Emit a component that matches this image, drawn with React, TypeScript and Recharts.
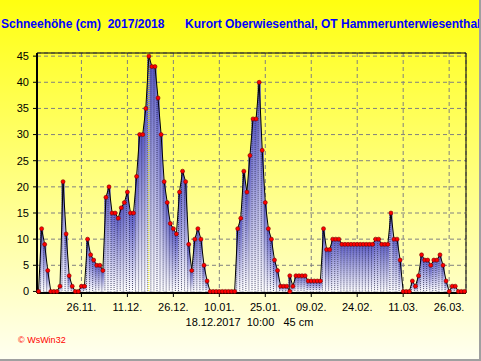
import { ComposedChart, Area, Bar, Line, XAxis, YAxis, CartesianGrid, ReferenceLine } from 'recharts'

// snow depth in cm, one entry per day starting 12.11.2017 (a pair = two readings that day)
const snow: (number | number[])[] = [
  0, 12, 9, 4, 0, 0, 0, 1, 21, 11,
  3, 1, 0, 0, 1, 1, 10, 7, 6, 5,
  5, 4, 18, 20, 15, 15, 14, 16, 17, 19,
  15, 15, 22, 30, 30, 35, 45, 43, 43, 37,
  30, 21, 17, 13, 12, 11, 19, 23, 21, 9,
  4, 10, 12, 10, 5, 2, 0, 0, 0, 0,
  0, 0, 0, 0, 0, 12, 14, 23, 19, 26,
  33, 33, 40, 27, 17, 12, 10, 6, 4, 1,
  1, 1, [0, 3], 1, 3, 3, 3, 3, 2, 2,
  2, 2, 2, 12, 8, 8, 10, 10, 10, 9,
  9, 9, 9, 9, 9, 9, 9, 9, 9, 9,
  10, 10, 9, 9, 9, 15, 10, 10, 6, 0,
  0, 0, 2, 1, 3, 7, 6, 6, 5, 6,
  6, 7, 5, 2, 0, 1, 1, 0, 0, 0,
]

const tickDays = [14, 29, 44, 59, 74, 89, 104, 119, 134]
const tickLabels = ['26.11.', '11.12.', '26.12.', '10.01.', '25.01.', '09.02.', '24.02.', '11.03.', '26.03.']
const yTicks = [0, 5, 10, 15, 20, 25, 30, 35, 40, 45]

const maxDay = 36
const title = 'Schneehöhe (cm)  2017/2018'
const station = 'Kurort Oberwiesenthal, OT Hammerunterwiesenthal'
const maxLabel = '18.12.2017  10:00   45 cm'
const credit = '\u00a9 WsWin32'

const data = snow.flatMap((v, day) => (Array.isArray(v) ? v : [v]).map((cm) => ({ day, cm })))

const font = 'Arial, "Liberation Sans", sans-serif'

// eslint-disable-next-line @typescript-eslint/no-explicit-any
function Column(props: any) {
  const { x, y, width, height } = props
  if (!height || height <= 0) return null
  return (
    <g>
      <rect x={x} y={y} width={width + 0.15} height={height} fill="url(#colGrad)" />
      <line x1={x + 0.5} x2={x + 0.5} y1={y} y2={y + height} stroke="#1a1a40" strokeOpacity={0.75} strokeDasharray="1 1" />
    </g>
  )
}

export default function App() {
  return (
    <div
      style={{
        position: 'absolute',
        left: 0,
        top: 0,
        width: 481,
        height: 361,
        background: 'linear-gradient(to bottom, #ffff10, #fffff2)',
        fontFamily: font,
      }}
    >
      <ComposedChart width={481} height={361} data={data} margin={{ top: 53, right: 15, bottom: 48, left: 0 }}>
        <defs>
          <linearGradient id="colGrad" x1="0" y1="0" x2="0" y2="1">
            <stop offset="0%" stopColor="#5a5ac4" />
            <stop offset="100%" stopColor="#ffffff" />
          </linearGradient>
          <linearGradient id="areaGrad" x1="0" y1="0" x2="0" y2="1">
            <stop offset="0%" stopColor="#7070cc" />
            <stop offset="100%" stopColor="#e8e8f8" />
          </linearGradient>
        </defs>
        <CartesianGrid stroke="#808080" strokeDasharray="4 3" />
        <XAxis
          type="number"
          dataKey="day"
          domain={[-0.5, 139.5]}
          ticks={tickDays}
          interval={0}
          tickFormatter={(v: number) => tickLabels[tickDays.indexOf(v)]}
          height={20}
          tickSize={4}
          tickMargin={6}
          axisLine={{ stroke: '#000', strokeWidth: 2 }}
          tickLine={{ stroke: '#000' }}
          tick={{ fontSize: 11, fill: '#000', fontFamily: font }}
        />
        <YAxis
          type="number"
          domain={[-0.3, 45.6]}
          ticks={yTicks}
          interval={0}
          width={37}
          tickSize={4}
          tickMargin={4}
          axisLine={{ stroke: '#000', strokeWidth: 2 }}
          tickLine={{ stroke: '#000' }}
          tick={{ fontSize: 11, fill: '#000', fontFamily: font }}
        />
        <Area type="linear" dataKey="cm" stroke="none" fill="url(#areaGrad)" fillOpacity={1} dot={false} activeDot={false} isAnimationActive={false} />
        <Bar dataKey="cm" barSize={3} shape={Column} isAnimationActive={false} />
        <ReferenceLine x={maxDay} stroke="#ffff00" strokeDasharray="1 1" />
        <ReferenceLine y={45.6} stroke="#000" />
        <ReferenceLine x={139.5} stroke="#000" />
        <Line
          type="linear"
          dataKey="cm"
          stroke="#000"
          strokeWidth={1}
          dot={{ r: 2, fill: '#ff0000', stroke: '#7a0000', strokeWidth: 0.6 }}
          activeDot={false}
          isAnimationActive={false}
        />
      </ComposedChart>
      <svg width={481} height={361} style={{ position: 'absolute', left: 0, top: 0, pointerEvents: 'none' }}>
        <text x={1} y={27.6} fill="#0000ff" fontSize={12} fontWeight="bold" fontFamily={font} style={{ whiteSpace: 'pre' }}>
          {title}
        </text>
        <text x={185} y={27.6} fill="#0000ff" fontSize={12} fontWeight="bold" fontFamily={font} style={{ whiteSpace: 'pre' }}>
          {station}
        </text>
        <text x={249.5} y={326} textAnchor="middle" fill="#000" fontSize={11} fontFamily={font} style={{ whiteSpace: 'pre' }}>
          {maxLabel}
        </text>
        <text x={18} y={342.7} fill="#ff0000" fontSize={9} fontFamily={font}>
          {credit}
        </text>
        <line x1={480} y1={0} x2={480} y2={361} stroke="#a0a0a0" strokeWidth={2} />
        <line x1={0} y1={360} x2={481} y2={360} stroke="#a0a0a0" strokeWidth={2} />
      </svg>
    </div>
  )
}
